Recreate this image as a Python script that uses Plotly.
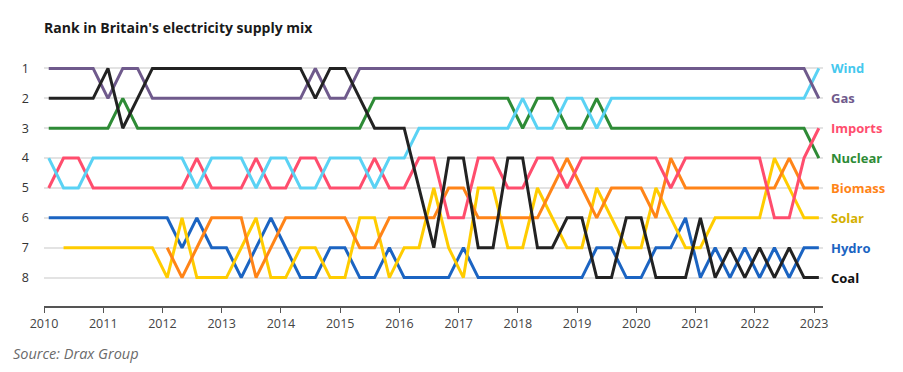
import plotly.graph_objects as go

# Quarterly periods, 2010 Q1 .. 2023 Q1
quarters = [f"{2010 + i // 4} Q{i % 4 + 1}" for i in range(53)]

wind = [4, 5, 5, 4, 4, 4, 4, 4, 4, 4,
        5, 4, 4, 4, 5, 4, 4, 5, 5, 4,
        4, 4, 5, 4, 4, 3, 3, 3, 3, 3,
        3, 3, 2, 3, 3, 2, 2, 3, 2, 2,
        2, 2, 2, 2, 2, 2, 2, 2, 2, 2,
        2, 2, 1]
gas = [1, 1, 1, 1, 2, 1, 1, 2, 2, 2,
       2, 2, 2, 2, 2, 2, 2, 2, 1, 2,
       2, 1, 1, 1, 1, 1, 1, 1, 1, 1,
       1, 1, 1, 1, 1, 1, 1, 1, 1, 1,
       1, 1, 1, 1, 1, 1, 1, 1, 1, 1,
       1, 1, 2]
imports = [5, 4, 4, 5, 5, 5, 5, 5, 5, 5,
           4, 5, 5, 5, 4, 5, 5, 4, 4, 5,
           5, 5, 4, 5, 5, 4, 4, 6, 6, 4,
           4, 5, 5, 4, 4, 5, 4, 4, 4, 4,
           4, 4, 5, 4, 4, 4, 4, 4, 4, 6,
           6, 4, 3]
nuclear = [3, 3, 3, 3, 3, 2, 3, 3, 3, 3,
           3, 3, 3, 3, 3, 3, 3, 3, 3, 3,
           3, 3, 2, 2, 2, 2, 2, 2, 2, 2,
           2, 2, 3, 2, 2, 3, 3, 2, 3, 3,
           3, 3, 3, 3, 3, 3, 3, 3, 3, 3,
           3, 3, 4]
biomass = [None, None, None, None, None, None, None, None, 7, 8,
           7, 6, 6, 6, 8, 7, 6, 6, 6, 6,
           6, 7, 7, 6, 6, 6, 6, 5, 5, 6,
           6, 6, 6, 6, 5, 4, 5, 6, 5, 5,
           5, 6, 4, 5, 5, 5, 5, 5, 5, 5,
           4, 5, 5]
solar = [None, 7, 7, 7, 7, 7, 7, 7, 8, 6,
         8, 8, 8, 7, 6, 8, 8, 7, 7, 8,
         8, 6, 6, 8, 7, 7, 5, 7, 8, 5,
         5, 7, 7, 5, 6, 7, 7, 5, 6, 7,
         7, 5, 6, 7, 7, 6, 6, 6, 6, 4,
         5, 6, 6]
hydro = [6, 6, 6, 6, 6, 6, 6, 6, 6, 7,
         6, 7, 7, 8, 7, 6, 7, 8, 8, 7,
         7, 8, 8, 7, 8, 8, 8, 8, 7, 8,
         8, 8, 8, 8, 8, 8, 8, 7, 7, 8,
         8, 7, 7, 6, 8, 7, 8, 7, 8, 7,
         8, 7, 7]
coal = [2, 2, 2, 2, 1, 3, 2, 1, 1, 1,
        1, 1, 1, 1, 1, 1, 1, 1, 2, 1,
        1, 2, 3, 3, 3, 5, 7, 4, 4, 7,
        7, 4, 4, 7, 7, 6, 6, 8, 8, 6,
        6, 8, 8, 8, 6, 8, 7, 8, 7, 8,
        7, 8, 8]

year_ticks = list(range(2010, 2024))
rank_ticks = list(range(1, 9))

# numeric position of each quarter on the time axis
xpos = [int(q[:4]) + (int(q[-1]) - 1) * 0.25 + 0.08 for q in quarters]

series = [
    ("Hydro", hydro, "#1B64C2", "#1B64C2"),
    ("Solar", solar, "#FFCC00", "#D4B000"),
    ("Biomass", biomass, "#FF8418", "#FF8418"),
    ("Nuclear", nuclear, "#2E8B36", "#2E8B36"),
    ("Imports", imports, "#FF4D6D", "#FF4D6D"),
    ("Wind", wind, "#5AD2F4", "#45C8EE"),
    ("Gas", gas, "#6F5A8C", "#6F5A8C"),
    ("Coal", coal, "#222222", "#111111"),
]

fig = go.Figure()
for name, vals, col, _ in series:
    fig.add_trace(go.Scatter(
        x=xpos, y=vals, mode="lines", name=name,
        line=dict(color=col, width=3),
        connectgaps=False, hoverinfo="x+y+name",
    ))

for name, vals, _, lcol in series:
    fig.add_annotation(
        x=xpos[-1], y=vals[-1], xref="x", yref="y",
        text=f"<b>{name}</b>", showarrow=False,
        xanchor="left", yanchor="middle", xshift=10,
        font=dict(family="Open Sans", size=13, color=lcol),
    )

fig.add_annotation(
    x=0, y=1, xref="paper", yref="paper",
    text="<b>Rank in Britain's electricity supply mix</b>",
    showarrow=False, xanchor="left", yanchor="middle",
    xshift=-2, yshift=27.5,
    font=dict(family="Open Sans", size=14, color="#1a1a1a"),
)
fig.add_annotation(
    x=0, y=0, xref="paper", yref="paper",
    text="<i>Source: Drax Group</i>",
    showarrow=False, xanchor="left", yanchor="middle",
    xshift=-33, yshift=-47,
    font=dict(family="Open Sans", size=14.5, color="#6a6a6a"),
)

# the page body adds an 8px offset, so the figure is 8px smaller and margins shifted
fig.update_layout(
    width=895, height=364,
    margin=dict(l=36, r=80, t=46.5, b=65.5, autoexpand=False),
    paper_bgcolor="white", plot_bgcolor="white",
    showlegend=False,
    font=dict(family="Open Sans", color="#333333"),
)
fig.update_xaxes(
    range=[2010.0, 2023.15],
    tickvals=year_ticks, ticktext=[str(y) for y in year_ticks],
    showgrid=False, zeroline=False, automargin=False,
    showline=True, linecolor="#555555", linewidth=1.5,
    ticks="outside", ticklen=5, tickwidth=1.3, tickcolor="#555555",
    tickfont=dict(family="Open Sans", size=12.5, color="#444444"),
)
fig.update_yaxes(
    range=[8.95, 0.55],
    tickvals=rank_ticks, ticktext=[str(r) for r in rank_ticks],
    showgrid=True, gridcolor="#E3E3E3", gridwidth=1.5,
    zeroline=False, showline=False, ticks="", automargin=False,
    ticklabelstandoff=14,
    tickfont=dict(family="Open Sans", size=12.5, color="#333333"),
)

fig.write_html("out.html")
